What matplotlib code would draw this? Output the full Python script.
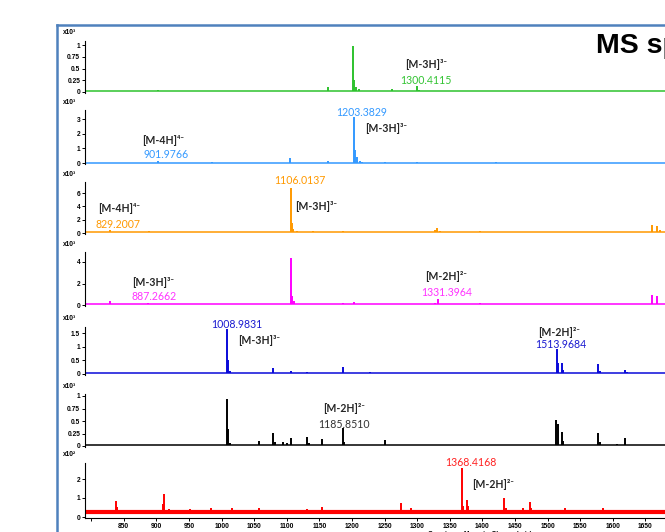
import matplotlib.pyplot as plt
from matplotlib.lines import Line2D

W, H = 665, 532

# ---- spectra: peak m/z, peak height (panel units), baseline level ----
green_mz = [902, 1105, 1163, 1201, 1203, 1206, 1210, 1261, 1300.4, 1303]
green_int = [0.05, 0.03, 0.1, 0.97, 0.25, 0.1, 0.06, 0.06, 0.12, 0.05]
green_base = 0.02

lblue_mz = [902, 985, 1105, 1163, 1203.4, 1205, 1207, 1212, 1216, 1250, 1300, 1421]
lblue_int = [0.12, 0.05, 0.35, 0.12, 3.13, 0.9, 0.4, 0.15, 0.1, 0.05, 0.08, 0.06]
lblue_base = 0.03

orange_mz = [829.2, 888, 1106, 1108, 1110, 1115, 1140, 1150, 1174, 1186, 1200,
             1225, 1327, 1331, 1335, 1396, 1500, 1660, 1668, 1672]
orange_int = [0.45, 0.3, 6.75, 1.5, 0.6, 0.3, 0.25, 0.2, 0.2, 0.25, 0.15,
              0.2, 0.5, 0.7, 0.3, 0.35, 0.1, 1.2, 1.0, 0.4]
orange_base = 0.08

magenta_mz = [829, 887.3, 1106, 1108, 1111, 1150, 1175, 1186, 1203, 1226,
              1328, 1331.4, 1396, 1660, 1668]
magenta_int = [0.37, 0.15, 4.35, 0.8, 0.35, 0.1, 0.1, 0.15, 0.25, 0.12,
               0.2, 0.55, 0.15, 0.9, 0.8]
magenta_base = 0.05

blue_mz = [830, 870, 902, 985, 1009, 1010.5, 1013, 1079, 1106, 1131, 1155, 1186,
           1227, 1250, 1300, 1396, 1421, 1514, 1516, 1522, 1524, 1577, 1580, 1619, 1622]
blue_int = [0.05, 0.04, 0.04, 0.05, 1.65, 0.5, 0.1, 0.22, 0.12, 0.06, 0.05, 0.26,
            0.06, 0.05, 0.04, 0.05, 0.05, 0.93, 0.4, 0.4, 0.15, 0.37, 0.1, 0.15, 0.06]
blue_base = 0.04

black_mz = [1009, 1010.5, 1013, 1057, 1079, 1082, 1094, 1100, 1106, 1131, 1134, 1154,
            1185.9, 1188, 1251, 1513.5, 1515.5, 1522, 1524, 1577, 1580, 1606, 1619]
black_int = [0.94, 0.35, 0.06, 0.1, 0.26, 0.08, 0.08, 0.07, 0.16, 0.18, 0.06, 0.14,
             0.36, 0.08, 0.12, 0.52, 0.45, 0.28, 0.1, 0.26, 0.08, 0.05, 0.16]
black_base = 0.02

red_mz = [837.6, 839, 909.5, 911.5, 919, 951, 983, 1016.6, 1057, 1101, 1131, 1154,
          1275, 1290.5, 1341, 1368.4, 1371, 1376, 1378, 1433, 1436, 1462, 1473, 1475,
          1527, 1585]
red_int = [0.84, 0.55, 0.7, 1.2, 0.42, 0.4, 0.45, 0.45, 0.48, 0.35, 0.4, 0.55,
           0.74, 0.48, 0.35, 2.58, 0.6, 0.9, 0.6, 1.0, 0.45, 0.45, 0.8, 0.5,
           0.5, 0.45]
red_base = 0.25

yticks = [[0, 0.25, 0.5, 0.75, 1], [0, 1, 2, 3], [0, 2, 4, 6], [0, 2, 4],
          [0, 0.5, 1, 1.5], [0, 0.25, 0.5, 0.75, 1], [0, 1, 2]]
ytick_labels = [['0', '0.25', '0.5', '0.75', '1'], ['0', '1', '2', '3'],
                ['0', '2', '4', '6'], ['0', '2', '4'], ['0', '0.5', '1', '1.5'],
                ['0', '0.25', '0.5', '0.75', '1'], ['0', '1', '2']]
scales = ['x10³', 'x10³', 'x10³', 'x10³', 'x10³', 'x10³', 'x10²']

xticks = list(range(800, 1651, 50))
xtick_labels = [''] + [str(t) for t in xticks[1:]]

# (text, colour or None for black ion label, left px, centre px)
annotations = [
    [('[M-3H]³⁻', None, 405, 65), ('1300.4115', '#33c433', 400, 80)],
    [('1203.3829', '#3399ff', 336, 112), ('[M-3H]³⁻', None, 365, 129),
     ('[M-4H]⁴⁻', None, 142, 141), ('901.9766', '#3399ff', 143, 155)],
    [('1106.0137', '#ff9900', 274, 181), ('[M-3H]³⁻', None, 295, 206),
     ('[M-4H]⁴⁻', None, 98, 209), ('829.2007', '#ff9900', 96, 224)],
    [('[M-3H]³⁻', None, 132, 282), ('887.2662', '#ff33ff', 132, 296),
     ('[M-2H]²⁻', None, 425, 276), ('1331.3964', '#ff33ff', 421, 292)],
    [('1008.9831', '#1a1ad0', 211, 324), ('[M-3H]³⁻', None, 238, 341),
     ('[M-2H]²⁻', None, 538, 333), ('1513.9684', '#1a1ad0', 535, 344)],
    [('[M-2H]²⁻', None, 323, 409), ('1185.8510', '#333333', 318, 424)],
    [('1368.4168', '#ff2222', 445, 462), ('[M-2H]²⁻', None, 472, 485)],
]

spectra = [
    (green_mz, green_int, green_base, '#2ec22e'),
    (lblue_mz, lblue_int, lblue_base, '#3399ff'),
    (orange_mz, orange_int, orange_base, '#ff9900'),
    (magenta_mz, magenta_int, magenta_base, '#ff00ff'),
    (blue_mz, blue_int, blue_base, '#0a0ad8'),
    (black_mz, black_int, black_base, '#000000'),
    (red_mz, red_int, red_base, '#ff0000'),
]

# panel geometry in pixels: zero line, a reference tick (value, px), top of axis
panel_px = [(92, 1, 45, 41), (163, 3, 119, 110), (233, 6, 193, 182),
            (305, 4, 262, 252), (374, 1.5, 333, 327), (446, 1, 396, 394),
            (517, 2, 479, 463)]

xmin, xmax = 790.5, 1760
px_per_mz = 0.652
ax_left = 85
ax_width = (xmax - xmin) * px_per_mz

tick_font = dict(family=['Liberation Sans', 'DejaVu Sans'], weight='bold', size=4.8)
label_family = ['Lato', 'DejaVu Sans']

fig = plt.figure(figsize=(W / 100, H / 100), dpi=100)

for i, ((mz, inten, base, color), (y0, tv, tpx, top)) in enumerate(zip(spectra, panel_px)):
    ppu = (y0 - tpx) / tv
    bottom = y0 + 1
    ax = fig.add_axes([ax_left / W, 1 - bottom / H, ax_width / W, (bottom - top) / H])
    ax.set_xlim(xmin, xmax)
    ax.set_ylim(-1 / ppu, (y0 - top) / ppu)
    lw_base = 3.0 if i == 6 else 1.1
    ax.hlines(base, xmin, xmax, color=color, lw=lw_base)
    ax.vlines(mz, base, inten, color=color, lw=1.4)

    for s in ['top', 'right']:
        ax.spines[s].set_visible(False)
    ax.spines['left'].set_linewidth(0.8)
    ax.set_yticks(yticks[i])
    ax.set_yticklabels(ytick_labels[i], fontdict=tick_font)
    ax.tick_params(axis='y', length=2.5, width=0.7, pad=1)
    if i < 6:
        ax.spines['bottom'].set_visible(False)
        ax.set_xticks([])
    else:
        ax.spines['bottom'].set_linewidth(0.8)
        ax.set_xticks(xticks)
        ax.set_xticklabels(xtick_labels, fontdict=tick_font)
        ax.tick_params(axis='x', length=2.5, width=0.7, pad=1)

    fig.text(63 / W, 1 - (top - 8) / H, scales[i], fontdict=tick_font, va='center')

    for text, col, x, y in annotations[i]:
        if col is None:
            fig.text(x / W, 1 - y / H, text, family=label_family, weight='bold',
                     size=7.6, color='#262626', va='center')
        else:
            fig.text(x / W, 1 - y / H, text, family=label_family, size=7.6,
                     color=col, va='center')

# axis title sits mostly below the bottom edge of the screenshot
fig.text(428 / W, 1 - 530.5 / H, 'Counts vs. Mass-to-Charge (m/z)',
         fontdict=tick_font, va='top')

# title, cut off by the right edge like the screenshot
fig.text(596 / W, 1 - 53 / H, 'MS spectra', family=['Liberation Sans', 'DejaVu Sans'],
         weight='bold', size=20.5, va='baseline')

# blue frame around the figure panel
frame = '#4f81bd'
fig.add_artist(Line2D([57 / W, 57 / W], [0, 1 - 25 / H], transform=fig.transFigure,
                      color=frame, lw=1.8))
fig.add_artist(Line2D([57 / W, 1], [1 - 25 / H, 1 - 25 / H], transform=fig.transFigure,
                      color=frame, lw=1.8))

fig.savefig('out.png', dpi=100)
